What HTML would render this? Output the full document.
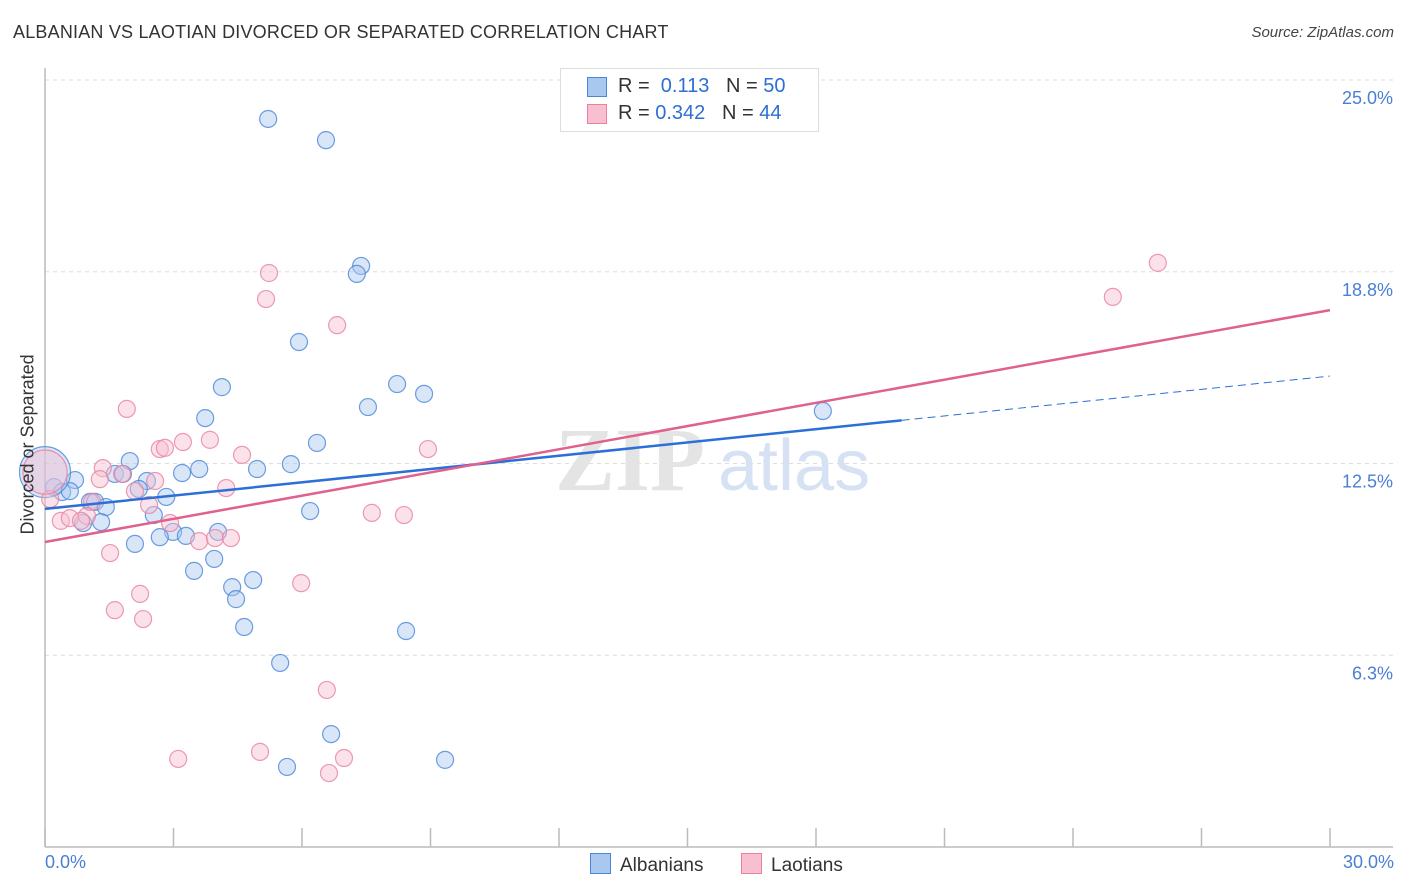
<!DOCTYPE html>
<html><head><meta charset="utf-8"><style>
body{margin:0;background:#fff;font-family:"Liberation Sans",sans-serif;}
#wrap{position:relative;width:1406px;height:892px;overflow:hidden;}
.t{position:absolute;white-space:nowrap;}
</style></head><body>
<div id="wrap">
<div class="t" style="left:13px;top:22px;font-size:18px;color:#333;letter-spacing:0.2px;">ALBANIAN VS LAOTIAN DIVORCED OR SEPARATED CORRELATION CHART</div>
<div class="t" style="right:12px;top:24px;font-size:15px;color:#444;font-style:italic;">Source: ZipAtlas.com</div>
<svg id="chart" width="1406" height="892" style="position:absolute;left:0;top:0"></svg>
</div>
<script>
const xTickVals=[0,3,6,9,12,15,18,21,24,27,30];
const yTickVals=[6.25,12.5,18.75,25];
const yTickLabels=["6.3%","12.5%","18.8%","25.0%"];
const albX=[5.21,6.56,7.38,7.28,5.93,4.13,8.22,8.85,7.54,3.74,6.35,1.98,5.74,3.20,3.60,4.95,0.70,1.63,1.82,2.38,0.21,0.40,0.58,2.19,2.83,1.05,1.17,1.42,2.54,6.19,1.31,0.89,2.99,2.68,3.29,2.10,4.04,3.95,3.48,4.37,4.86,4.46,4.65,8.43,5.49,6.68,5.65,9.34,18.16,0];
const albY=[23.73,23.04,18.94,18.68,16.46,14.99,15.09,14.77,14.34,13.98,13.17,12.58,12.48,12.19,12.32,12.32,11.96,12.16,12.16,11.93,11.73,11.57,11.60,11.67,11.41,11.25,11.25,11.08,10.82,10.95,10.59,10.56,10.27,10.10,10.14,9.88,10.27,9.39,9.00,8.47,8.70,8.08,7.17,7.04,6.00,3.68,2.61,2.84,14.21,12.22];
const albW=[1,1,1,1,1,1,1,1,1,1,1,1,1,1,1,1,1,1,1,1,1,1,1,1,1,1,1,1,1,1,1,1,1,1,1,1,1,1,1,1,1,1,1,1,1,1,1,1,1,3];
const laoX=[25.98,24.93,5.23,5.16,6.82,1.91,2.68,2.80,3.22,3.85,4.60,8.94,1.35,1.28,1.80,2.57,2.10,4.23,2.43,1.10,0.98,0.37,0.58,0.84,2.92,3.60,3.97,4.34,7.63,8.38,1.52,5.98,2.22,1.63,2.29,6.58,5.02,3.11,6.98,6.63,0.12,0];
const laoY=[19.04,17.93,18.71,17.86,17.01,14.28,12.97,13.01,13.20,13.27,12.78,12.97,12.35,11.99,12.16,11.93,11.60,11.70,11.15,11.25,10.79,10.63,10.72,10.63,10.56,9.97,10.07,10.07,10.89,10.82,9.58,8.60,8.25,7.72,7.43,5.12,3.10,2.87,2.90,2.41,11.34,12.22];
const laoW=[1,1,1,1,1,1,1,1,1,1,1,1,1,1,1,1,1,1,1,1,1,1,1,1,1,1,1,1,1,1,1,1,1,1,1,1,1,1,1,1,1,2.6];
const albLine=[11.02,15.35]; const albSolidEnd=20.0;
const laoLine=[9.94,17.50];
const X0=45,X1=1330,Y0=847,PXPERPCT=30.68;
const sx=v=>X0+(v/30)*(X1-X0);
const sy=v=>Y0-v*PXPERPCT;
const svg=document.getElementById('chart');const NS='http://www.w3.org/2000/svg';
function mk(tag,attrs,parent){const e=document.createElementNS(NS,tag);for(const k in attrs)e.setAttribute(k,attrs[k]);(parent||svg).appendChild(e);return e;}
// grid
yTickVals.forEach((v,i)=>{
 const g=mk('line',{x1:X0,x2:1393,y1:sy(v),y2:sy(v),stroke:'#ddd','stroke-dasharray':'4,4','stroke-width':1});
 
 
 const t=mk('text',{x:1393,y:sy(v)+24,'text-anchor':'end','font-size':18,fill:'#4a7fd6','font-family':'Liberation Sans, sans-serif'});
 t.textContent=yTickLabels[i];
 
 
});
const topG=mk('line',{x1:X0,x2:1393,y1:80,y2:80,stroke:'#ddd','stroke-dasharray':'4,4'});


// axes
const ax=mk('line',{x1:X0,x2:1393,y1:Y0,y2:Y0,stroke:'#bbb','stroke-width':1.5});


const ay=mk('line',{x1:X0,x2:X0,y1:68,y2:Y0,stroke:'#bbb','stroke-width':1.5});


xTickVals.forEach(v=>{const l=mk('line',{x1:sx(v),x2:sx(v),y1:828,y2:Y0,stroke:'#bbb','stroke-width':1.5});
 
 });
// watermark
const wm=mk('text',{x:555,y:490,'font-size':90,fill:'#e4e4e4','font-family':'Liberation Serif, serif','font-weight':'bold'});wm.textContent='ZIP';


const wm2=mk('text',{x:718,y:490,'font-size':72,fill:'#d6e2f4','font-family':'Liberation Sans, sans-serif'});wm2.textContent='atlas';


// points
function pts(xs,ys,ws,fill,stroke,name){xs.forEach((x,i)=>{const c=mk('circle',{cx:sx(x),cy:sy(ys[i]),r:8.5*ws[i],fill:fill,'fill-opacity':0.45,stroke:stroke,'stroke-width':1.2,'stroke-opacity':0.8});
 
 });}
pts(albX,albY,albW,'#a9c8f0','#4a86d8','albanian-point');
pts(laoX,laoY,laoW,'#f7bfd0','#e9819f','laotian-point');
// trend lines
const at=v=>albLine[0]+(albLine[1]-albLine[0])*v/30;
const bl=mk('line',{x1:sx(0),y1:sy(at(0)),x2:sx(albSolidEnd),y2:sy(at(albSolidEnd)),stroke:'#2c6fd6','stroke-width':2.5});


const bd=mk('line',{x1:sx(albSolidEnd),y1:sy(at(albSolidEnd)),x2:sx(30),y2:sy(at(30)),stroke:'#2c6fd6','stroke-width':1,'stroke-dasharray':'8,5'});


const pl=mk('line',{x1:sx(0),y1:sy(laoLine[0]),x2:sx(30),y2:sy(laoLine[1]),stroke:'#e0608e','stroke-width':2.5});


</script>
<div class="t" style="left:-52px;top:444px;font-size:18px;color:#333;transform:rotate(-90deg);width:160px;text-align:center;">Divorced or Separated</div>
<div class="t" style="left:45px;top:852px;font-size:18px;color:#4a7fd6;">0.0%</div>
<div class="t" style="right:12px;top:852px;font-size:18px;color:#4a7fd6;">30.0%</div>
<div style="position:absolute;left:560px;top:68px;width:257px;height:62px;border:1px solid #ddd;background:#fff;font-size:20px;">
 <div style="position:absolute;left:26px;top:8px;width:18px;height:18px;background:#a9c8f0;border:1px solid #4a86d8;"></div>
 <div class="t" style="left:57px;top:6px;color:#333;">R = &nbsp;<span style="color:#2c6fd6">0.113</span>&nbsp;&nbsp;&nbsp;N = <span style="color:#2c6fd6">50</span></div>
 <div style="position:absolute;left:26px;top:35px;width:18px;height:18px;background:#f7bfd0;border:1px solid #e9819f;"></div>
 <div class="t" style="left:57px;top:33px;color:#333;">R = <span style="color:#2c6fd6">0.342</span>&nbsp;&nbsp;&nbsp;N = <span style="color:#2c6fd6">44</span></div>
</div>
<div style="position:absolute;left:590px;top:853px;font-size:19px;color:#333;">
 <span style="display:inline-block;width:19px;height:19px;background:#a9c8f0;border:1px solid #4a86d8;vertical-align:-3px;margin-right:9px;"></span>Albanians</div>
<div style="position:absolute;left:741px;top:853px;font-size:19px;color:#333;">
 <span style="display:inline-block;width:19px;height:19px;background:#f7bfd0;border:1px solid #e9819f;vertical-align:-3px;margin-right:9px;"></span>Laotians</div>
</body></html>
